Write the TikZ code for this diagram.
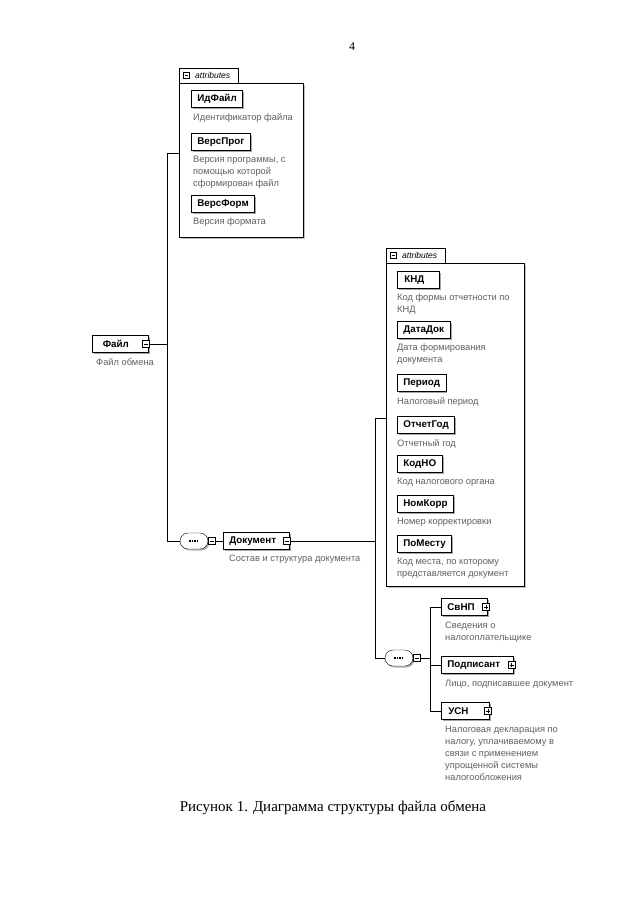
\documentclass[tikz,border=0pt]{standalone}
\usepackage{fontspec}
\setmainfont{Liberation Serif}
\setsansfont{Liberation Sans}
\usetikzlibrary{positioning,shadows,shapes.misc}
\tikzset{
    elem-box/.style = {draw, fill=white, thick, rectangle, font=\sffamily\bfseries\fontsize{9.8}{10}\selectfont, inner xsep=6pt, inner ysep=0pt, minimum height=17pt, anchor=west, drop shadow={shadow xshift=1.5pt, shadow yshift=-1.5pt, fill=gray!70, opacity=1}},
    attr-box/.style = {draw, fill=white, rectangle, inner sep=0pt, anchor=north west, drop shadow={shadow xshift=1.5pt, shadow yshift=-1.5pt, fill=gray!50, opacity=1}},
    attr-tab/.style = {draw, fill=white, rectangle, inner sep=0pt, minimum height=15pt, anchor=south west, font=\sffamily\itshape\fontsize{8.5}{9}\selectfont},
    desc-text/.style = {font=\sffamily\fontsize{9.3}{12}\selectfont, text=gray!75!black, inner sep=0pt, align=left, anchor=north west},
    tog/.style = {draw, fill=white, thin, minimum size=7pt, inner sep=0pt},
    tog-minus/.style = {tog, path picture={\draw ([xshift=1.5pt]path picture bounding box.west) -- ([xshift=-1.5pt]path picture bounding box.east);}},
    tog-plus/.style = {tog, path picture={\draw ([xshift=1.5pt]path picture bounding box.west) -- ([xshift=-1.5pt]path picture bounding box.east);
        \draw ([yshift=1.5pt]path picture bounding box.south) -- ([yshift=-1.5pt]path picture bounding box.north);}},
    seq-box/.style = {draw, fill=white, rounded rectangle, minimum width=28pt, minimum height=16pt, inner sep=0pt, drop shadow={shadow xshift=1.5pt, shadow yshift=-1.5pt, fill=gray!60, opacity=1},
        path picture={\draw[line width=2pt, dash pattern=on 1.5pt off 1pt] ([xshift=-5pt]path picture bounding box.center) -- ([xshift=5pt]path picture bounding box.center);}},
}

\begin{document}
\begin{tikzpicture}[x=1pt, y=-1pt]
\useasboundingbox (0,0) rectangle (640,903);
\node[font=\fontsize{12}{14}\selectfont] (page-num) at (352,47) {4};

% attributes of Файл
\node[attr-box, minimum width=124pt, minimum height=154pt] (attrs-fajl) at (179,83) {};
\node[attr-tab, minimum width=59pt, anchor=south west] (tab-fajl) at (attrs-fajl.north west) {\hspace*{13pt}attributes\hspace*{5pt}};
\node[tog-minus, minimum size=6pt] at ([xshift=7pt]tab-fajl.west) {};
\node[elem-box] (idfajl) at (191,99) {ИдФайл};
\node[desc-text, below=5pt of idfajl.south west, anchor=north west, xshift=2pt] {Идентификатор файла};
\node[elem-box] (versprog) at (191,142) {ВерсПрог};
\node[desc-text, below=5pt of versprog.south west, anchor=north west, xshift=2pt] {Версия программы, с\\помощью которой\\сформирован файл};
\node[elem-box] (versform) at (191,204) {ВерсФорм};
\node[desc-text, below=5pt of versform.south west, anchor=north west, xshift=2pt] {Версия формата};

% Файл
\node[elem-box, minimum width=56pt, align=left] (fajl) at (92,344) {Файл\hspace*{9pt}};
\node[tog-minus] (fajl-tog) at ([xshift=-3pt]fajl.east) {};
\node[desc-text, below=5pt of fajl.south west, anchor=north west, xshift=4pt] {Файл обмена};

\coordinate (fajl-top) at (167,153);
\coordinate (fajl-bot) at (167,541);
\node[seq-box] (seq-fajl) at (194,541) {};
\node[tog-minus] (seq-fajl-tog) at ([xshift=3.5pt]seq-fajl.east) {};
\node[elem-box] (dokument) at (223,541) {Документ\hspace*{7pt}};
\node[tog-minus] (dok-tog) at ([xshift=-3pt]dokument.east) {};
\node[desc-text, below=5pt of dokument.south west, anchor=north west, xshift=6pt] {Состав и структура документа};

\draw (attrs-fajl.west |- fajl-top) -- (fajl-top) -- (fajl-bot) -- (seq-fajl.west);
\draw (fajl-tog.east) -- (fajl-tog.east -| fajl-top);
\draw (seq-fajl-tog.east) -- (dokument.west);

% attributes of Документ
\node[attr-box, minimum width=138pt, minimum height=323pt] (attrs-dok) at (386,263) {};
\node[attr-tab, minimum width=59pt, anchor=south west] (tab-dok) at (attrs-dok.north west) {\hspace*{13pt}attributes\hspace*{5pt}};
\node[tog-minus, minimum size=6pt] at ([xshift=7pt]tab-dok.west) {};
\node[elem-box, minimum width=42pt, align=left] (knd) at (397,280) {КНД\hspace*{8pt}};
\node[desc-text, below=5pt of knd.south west, anchor=north west] {Код формы отчетности по\\КНД};
\node[elem-box] (datadok) at (397,330) {ДатаДок};
\node[desc-text, below=5pt of datadok.south west, anchor=north west] {Дата формирования\\документа};
\node[elem-box] (period) at (397,383) {Период};
\node[desc-text, below=5pt of period.south west, anchor=north west] {Налоговый период};
\node[elem-box] (otchgod) at (397,425) {ОтчетГод};
\node[desc-text, below=5pt of otchgod.south west, anchor=north west] {Отчетный год};
\node[elem-box] (kodno) at (397,464) {КодНО};
\node[desc-text, below=5pt of kodno.south west, anchor=north west] {Код налогового органа};
\node[elem-box] (nomkorr) at (397,504) {НомКорр};
\node[desc-text, below=5pt of nomkorr.south west, anchor=north west] {Номер корректировки};
\node[elem-box] (pomestu) at (397,544) {ПоМесту};
\node[desc-text, below=5pt of pomestu.south west, anchor=north west] {Код места, по которому\\представляется документ};

\coordinate (dok-top) at (375,418);
\coordinate (dok-bot) at (375,658);
\node[seq-box] (seq-dok) at (399,658) {};
\node[tog-minus] (seq-dok-tog) at ([xshift=3.5pt]seq-dok.east) {};

\draw (dok-tog.east) -- (dok-tog.east -| dok-top);
\draw (attrs-dok.west |- dok-top) -- (dok-top) -- (dok-bot) -- (seq-dok.west);

% children of Документ
\node[elem-box] (svnp) at (441,607) {СвНП\hspace*{7pt}};
\node[tog-plus] (svnp-tog) at ([xshift=-2pt]svnp.east) {};
\node[desc-text, below=6pt of svnp.south west, anchor=north west, xshift=4pt] {Сведения о\\налогоплательщике};
\node[elem-box] (podp) at (441,665) {Подписант\hspace*{7pt}};
\node[tog-plus] (podp-tog) at ([xshift=-2pt]podp.east) {};
\node[desc-text, below=6pt of podp.south west, anchor=north west, xshift=4pt] {Лицо, подписавшее документ};
\node[elem-box, minimum width=48pt, align=left] (usn) at (441,711) {УСН\hspace*{14pt}};
\node[tog-plus] (usn-tog) at ([xshift=-2pt]usn.east) {};
\node[desc-text, below=6pt of usn.south west, anchor=north west, xshift=4pt] {Налоговая декларация по\\налогу, уплачиваемому в\\связи с применением\\упрощенной системы\\налогообложения};

\coordinate (ch-top) at (430,607);
\draw (seq-dok-tog.east) -- (seq-dok-tog.east -| ch-top);
\draw (svnp.west) -- (svnp.west -| ch-top) -- (usn.west -| ch-top) -- (usn.west);
\draw (podp.west) -- (podp.west -| ch-top);

\node[font=\fontsize{15}{17}\selectfont] (caption) at (333,808) {Рисунок 1. Диаграмма структуры файла обмена};
\end{tikzpicture}
\end{document}
